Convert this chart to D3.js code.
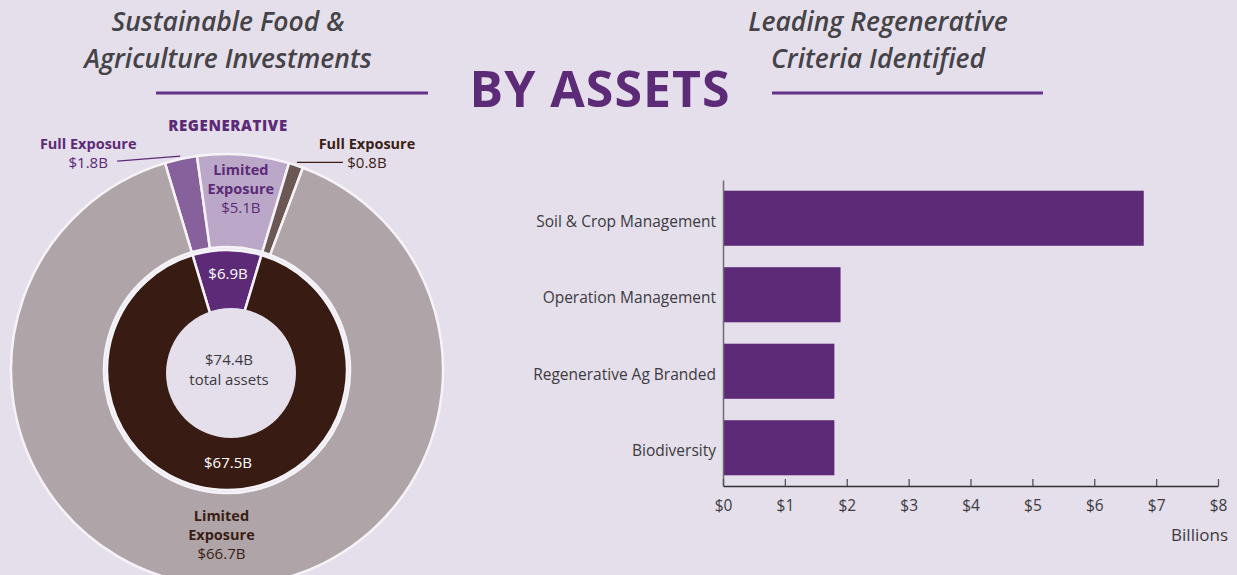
<!DOCTYPE html>
<html>
<head>
<meta charset="utf-8">
<script src="https://cdn.jsdelivr.net/npm/d3@7"></script>
<style>
  html, body { margin: 0; padding: 0; background: #e4dfeb; }
  svg { display: block; font-family: "Open Sans", Lato, sans-serif; }
</style>
</head>
<body>
<svg id="chart" width="1237" height="575"></svg>
<script>
// Inner ring: regenerative vs conventional holdings (billions USD)
const innerCategories = ["Regenerative", "Conventional"];
const innerValues = [6.9, 67.5];

// Outer ring: exposure split inside each inner group (billions USD)
const outerCategories = ["Regenerative Full Exposure", "Regenerative Limited Exposure",
                         "Conventional Full Exposure", "Conventional Limited Exposure"];
const outerValues = [1.8, 5.1, 0.8, 66.7];
const totalAssets = 74.4;

// Leading criteria bar chart (billions USD)
const criteria = ["Soil & Crop Management", "Operation Management", "Regenerative Ag Branded", "Biodiversity"];
const criteriaValues = [6.8, 1.9, 1.8, 1.8];
const xTicks = [0, 1, 2, 3, 4, 5, 6, 7, 8];

const fmtB = v => "$" + v.toFixed(1) + "B";

const svg = d3.select("#chart");
const purple = "#5c2a76";
const textDark = "#3d3a40";
const brownText = "#3a1d14";
const FONT = "'Open Sans', Lato, sans-serif";

// ---------- headings ----------
const titleStyle = sel => sel
  .attr("font-size", 26.5).attr("font-weight", 600).attr("font-style", "italic")
  .attr("fill", "#454347").attr("text-anchor", "middle");

svg.append("text").attr("x", 228).attr("y", 31).text("Sustainable Food &").call(titleStyle);
svg.append("text").attr("x", 228).attr("y", 68).text("Agriculture Investments").call(titleStyle);
svg.append("text").attr("x", 878).attr("y", 31).text("Leading Regenerative").call(titleStyle);
svg.append("text").attr("x", 878).attr("y", 68).text("Criteria Identified").call(titleStyle);

svg.append("text").attr("x", 600).attr("y", 107).attr("text-anchor", "middle")
  .attr("font-size", 50).attr("font-weight", 700).attr("letter-spacing", 1).attr("fill", purple)
  .text("BY ASSETS");

svg.append("line").attr("x1", 156).attr("x2", 428).attr("y1", 93).attr("y2", 93)
  .attr("stroke", "#65318a").attr("stroke-width", 3);
svg.append("line").attr("x1", 772).attr("x2", 1043).attr("y1", 93).attr("y2", 93)
  .attr("stroke", "#65318a").attr("stroke-width", 3);

// ---------- nested donut ----------
const cx = 227, cy = 370;
const g = svg.append("g").attr("transform", `translate(${cx},${cy})`);

const startAngle = -Math.PI * innerValues[0] / totalAssets;
const pie = d3.pie().sort(null).startAngle(startAngle).endAngle(startAngle + 2 * Math.PI);

const innerArcs = pie(innerValues);
const outerArcs = pie(outerValues);

const innerColors = ["#5c2a76", "#381b12"];
const outerColors = ["#86619b", "#bba8c9", "#6b5753", "#afa5a8"];

const outerArc = d3.arc().innerRadius(123).outerRadius(216);
const innerArc = d3.arc().innerRadius(58).outerRadius(120);

g.selectAll("path.outer").data(outerArcs).join("path")
  .attr("class", "outer")
  .attr("d", outerArc)
  .attr("fill", (d, i) => outerColors[i])
  .attr("stroke", "#f6f3f8").attr("stroke-width", 2.5);

g.selectAll("path.inner").data(innerArcs).join("path")
  .attr("class", "inner")
  .attr("d", innerArc)
  .attr("fill", (d, i) => innerColors[i])
  .attr("stroke", "#f6f3f8").attr("stroke-width", 2.5);

// centre hole
g.append("circle").attr("cx", 4).attr("cy", 3).attr("r", 65).attr("fill", "#e4dfeb");

const at = (a, r) => [r * Math.sin(a), -r * Math.cos(a)];
const mid = d => (d.startAngle + d.endAngle) / 2;

// inner ring values
const innerLabelR = [97, 92];
innerArcs.forEach((d, i) => {
  const [x, y] = at(mid(d), innerLabelR[i]);
  g.append("text").attr("x", x + 1).attr("y", y + 6).attr("text-anchor", "middle")
    .attr("font-size", 15).attr("fill", "#ffffff").text(fmtB(d.data));
});

// centre total
g.append("text").attr("x", 2).attr("y", -5).attr("text-anchor", "middle")
  .attr("font-size", 15).attr("fill", textDark).text(fmtB(totalAssets));
g.append("text").attr("x", 2).attr("y", 15).attr("text-anchor", "middle")
  .attr("font-size", 15).attr("fill", textDark).text("total assets");

// REGENERATIVE heading above donut
g.append("text").attr("x", 1).attr("y", -239).attr("text-anchor", "middle")
  .attr("font-size", 15).attr("font-weight", 800).attr("letter-spacing", 0.6).attr("fill", purple)
  .text("REGENERATIVE");

// in-segment labels for limited exposure slices
function stackedLabel(d, r, color, dx) {
  const [x, y] = at(mid(d), r);
  const t = g.append("text").attr("text-anchor", "middle").attr("font-size", 14.5).attr("fill", color);
  t.append("tspan").attr("x", x + dx).attr("y", y - 14).attr("font-weight", 700).text("Limited");
  t.append("tspan").attr("x", x + dx).attr("y", y + 5).attr("font-weight", 700).text("Exposure");
  t.append("tspan").attr("x", x + dx).attr("y", y + 24).attr("font-size", 15).text(fmtB(d.data));
}
stackedLabel(outerArcs[1], 182, purple, 0);
stackedLabel(outerArcs[3], 165, brownText, 0);

// callouts for full exposure slices
function callout(d, color, side) {
  const [sx, sy] = at(mid(d), 219);
  const ex = side < 0 ? sx - 63 : sx + 46;
  const ey = side < 0 ? sy + 5 : sy;
  g.append("line").attr("x1", sx).attr("y1", sy).attr("x2", ex).attr("y2", ey)
    .attr("stroke", color).attr("stroke-width", 1.3);
  const lx = side < 0 ? ex - 29 : ex + 24;
  const t = g.append("text").attr("text-anchor", "middle").attr("font-size", 14.5).attr("fill", color);
  t.append("tspan").attr("x", lx).attr("y", -221).attr("font-weight", 700).text("Full Exposure");
  t.append("tspan").attr("x", lx).attr("y", -202).attr("font-size", 15).text(fmtB(d.data));
}
callout(outerArcs[0], purple, -1);
callout(outerArcs[2], brownText, 1);

// ---------- horizontal bar chart ----------
const x = d3.scaleLinear().domain([0, 8]).range([723, 1218]);
const y = d3.scaleBand().domain(criteria).range([180, 486]).paddingInner(0.28).paddingOuter(0.14);

svg.append("g").selectAll("rect").data(criteria).join("rect")
  .attr("x", x(0))
  .attr("y", d => y(d))
  .attr("width", (d, i) => x(criteriaValues[i]) - x(0))
  .attr("height", y.bandwidth())
  .attr("fill", "#5d2a77");

const yAxis = svg.append("g").attr("transform", `translate(${x(0)},0)`)
  .call(d3.axisLeft(y).tickSize(0).tickPadding(7));
yAxis.select(".domain").attr("stroke", "#6e6a70").attr("stroke-width", 1.5);
yAxis.selectAll("text").attr("font-size", 15.5).attr("fill", textDark)
  .attr("font-family", FONT).attr("dy", "0.55em");

const xAxis = svg.append("g").attr("transform", "translate(0,486)")
  .call(d3.axisBottom(x).tickValues(xTicks).tickFormat(d => "$" + d).tickSize(-7).tickSizeOuter(0).tickPadding(14));
xAxis.select(".domain").attr("stroke", "#333035").attr("stroke-width", 1.5);
xAxis.selectAll(".tick line").attr("stroke", "#555158").attr("stroke-width", 1.3);
xAxis.selectAll("text").attr("font-size", 15.5).attr("fill", textDark)
  .attr("font-family", FONT);

svg.append("text").attr("x", 1228).attr("y", 541).attr("text-anchor", "end")
  .attr("font-size", 17).attr("fill", textDark).text("Billions");
</script>
</body>
</html>
